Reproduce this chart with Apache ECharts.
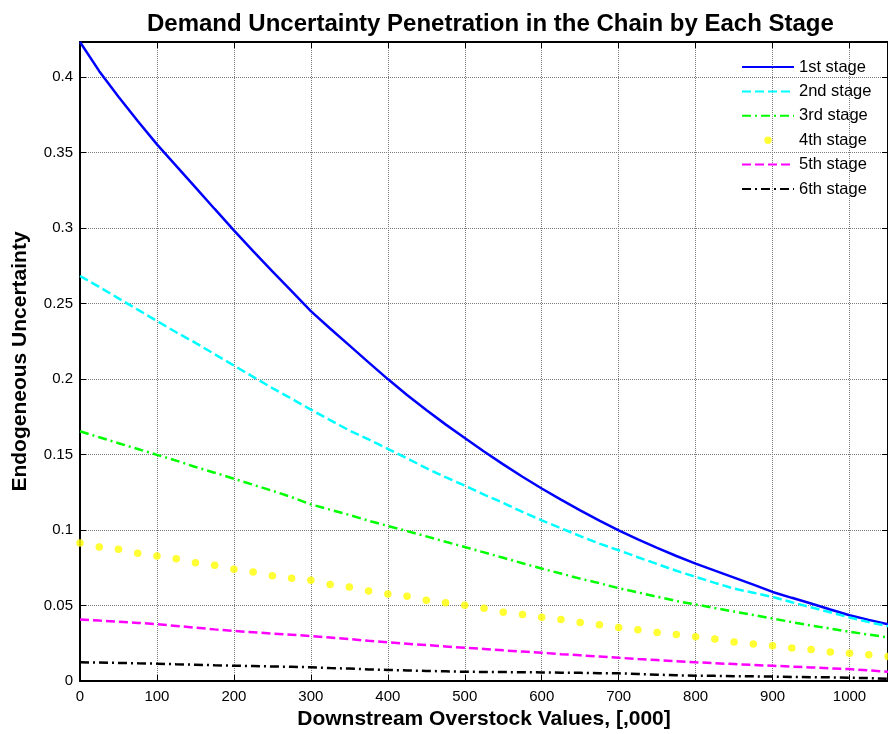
<!DOCTYPE html>
<html>
<head>
<meta charset="utf-8">
<script src="https://cdn.jsdelivr.net/npm/echarts@6/dist/echarts.min.js"></script>
<style>
  html, body { margin: 0; padding: 0; background: #fff; }
  #chart { width: 888px; height: 734px; }
</style>
</head>
<body>
<div id="chart"></div>
<script>
// Downstream overstock values in thousands (step of 25)
const xValues = [0,25,50,75,100,125,150,175,200,225,250,275,300,325,350,375,400,425,450,475,500,
  525,550,575,600,625,650,675,700,725,750,775,800,825,850,875,900,925,950,975,1000,1025,1050];

const stage1 = [0.4233,0.404,0.387,0.371,0.3555,0.3412,0.327,0.3127,0.2985,0.2848,0.2713,0.2582,0.245,0.2335,0.2223,0.2111,0.200,0.1895,0.1795,0.170,0.161,
  0.152,0.1435,0.1353,0.1275,0.1201,0.113,0.1062,0.0998,0.0938,0.0882,0.0828,0.0778,0.0731,0.0685,0.0638,0.059,0.0551,0.0513,0.0474,0.0436,0.0405,0.0375];

const stage2 = [0.2683,0.261,0.2535,0.246,0.2385,0.231,0.224,0.2165,0.209,0.2015,0.194,0.187,0.1798,0.1728,0.166,0.160,0.1538,0.1475,0.141,0.135,0.1295,
  0.1235,0.118,0.112,0.1064,0.1012,0.096,0.091,0.0866,0.082,0.0775,0.073,0.069,0.065,0.0612,0.0585,0.0557,0.0522,0.0488,0.0455,0.0421,0.039,0.0363];

const stage3 = [0.1654,0.1615,0.1575,0.1537,0.1498,0.146,0.1418,0.138,0.134,0.130,0.126,0.1218,0.117,0.1135,0.110,0.1062,0.1027,0.0993,0.0958,0.0922,0.0888,
  0.0852,0.0816,0.078,0.0745,0.0712,0.0678,0.0648,0.0615,0.0587,0.0558,0.053,0.0507,0.0483,0.046,0.0437,0.0414,0.039,0.0368,0.0347,0.0326,0.0307,0.0289];

const stage4 = [0.0914,0.0888,0.0872,0.0846,0.0828,0.081,0.0784,0.0767,0.074,0.0722,0.0698,0.068,0.0668,0.0639,0.0623,0.0597,0.0577,0.0562,0.0535,0.0518,0.0502,
  0.0482,0.0456,0.0441,0.0423,0.0408,0.0388,0.0372,0.0355,0.0339,0.0322,0.0308,0.0293,0.0278,0.0258,0.0245,0.0233,0.0218,0.0209,0.0192,0.0183,0.0174,0.0162];

const stage5 = [0.0408,0.040,0.0393,0.0385,0.0377,0.0365,0.0353,0.0342,0.0332,0.0323,0.0314,0.0306,0.0298,0.0288,0.0278,0.0266,0.0256,0.0247,0.0238,0.0229,0.022,
  0.0212,0.0203,0.0195,0.0187,0.0178,0.017,0.0162,0.0154,0.0146,0.0139,0.0131,0.0124,0.0118,0.0112,0.0106,0.0101,0.0095,0.009,0.0084,0.0079,0.007,0.0062];

const stage6 = [0.0124,0.0122,0.012,0.0117,0.0115,0.0111,0.0108,0.0104,0.0101,0.0099,0.0096,0.0094,0.0091,0.0086,0.0082,0.0077,0.0073,0.007,0.0067,0.0064,0.0061,
  0.006,0.0059,0.0058,0.0057,0.0055,0.0054,0.0052,0.0051,0.0046,0.0042,0.0038,0.0035,0.0034,0.0032,0.0031,0.0029,0.0027,0.0025,0.0024,0.0022,0.0019,0.0015];

const stageNames = ['1st stage','2nd stage','3rd stage','4th stage','5th stage','6th stage'];

const pairs = ys => xValues.map((x, i) => [x, ys[i]]);

const FONT = '"Liberation Sans", Arial, sans-serif';
const gridLine = { show: true, lineStyle: { color: '#7a7a7a', type: 'dotted', width: 1 } };
const frameLine = { show: true, onZero: false, lineStyle: { color: '#000', width: 2 } };
const innerTick = { show: true, inside: true, length: 6, lineStyle: { color: '#000' } };

// small centred dot for the marker-only series in the legend
const dotIcon = 'path://M0,0L0.001,0M52,16L52.001,16M22.3,8A3.7,3.7,0,1,1,29.7,8A3.7,3.7,0,1,1,22.3,8Z';

const chart = echarts.init(document.getElementById('chart'), null, { renderer: 'canvas' });

const lineSeries = (name, ys, color, dash) => ({
  name, type: 'line', data: pairs(ys), symbol: 'none', smooth: false,
  lineStyle: { color, width: 2.5, type: dash },
  itemStyle: { color },
  animation: false
});

chart.setOption({
  animation: false,
  backgroundColor: '#fff',
  title: {
    text: 'Demand Uncertainty Penetration in the Chain by Each Stage',
    left: 142, top: 7,
    textStyle: { fontFamily: FONT, fontSize: 24, fontWeight: 'bold', color: '#000' }
  },
  legend: {
    orient: 'vertical',
    left: 741, top: 58.5, padding: 0,
    itemWidth: 52, itemHeight: 16, itemGap: 7.4,
    textStyle: { fontFamily: FONT, fontSize: 16.5, color: '#000' },
    data: [
      { name: stageNames[0], itemStyle: { opacity: 0 } },
      { name: stageNames[1], itemStyle: { opacity: 0 } },
      { name: stageNames[2], itemStyle: { opacity: 0 } },
      { name: stageNames[3], icon: dotIcon },
      { name: stageNames[4], itemStyle: { opacity: 0 } },
      { name: stageNames[5], itemStyle: { opacity: 0 } }
    ]
  },
  grid: { left: 80, top: 42, right: 0, bottom: 53, containLabel: false, outerBoundsMode: 'none' },
  xAxis: [{
    type: 'value', min: 0, max: 1050, interval: 100, position: 'bottom',
    name: 'Downstream Overstock Values, [,000]',
    nameLocation: 'middle', nameGap: 27,
    nameTextStyle: { fontFamily: FONT, fontSize: 21, fontWeight: 'bold', color: '#000' },
    axisLine: frameLine,
    axisTick: innerTick,
    axisLabel: { fontFamily: FONT, fontSize: 15, color: '#000', margin: 8, showMaxLabel: false,
      formatter: v => String(v) },
    splitLine: gridLine
  }, {
    type: 'value', min: 0, max: 1050, interval: 100, position: 'top',
    axisLine: frameLine,
    axisTick: innerTick,
    axisLabel: { show: false }, splitLine: { show: false }
  }],
  yAxis: [{
    type: 'value', min: 0, max: 0.4233, interval: 0.05, position: 'left',
    name: 'Endogeneous Uncertainty',
    nameLocation: 'middle', nameGap: 49, nameRotate: 90,
    nameTextStyle: { fontFamily: FONT, fontSize: 21, fontWeight: 'bold', color: '#000' },
    axisLine: frameLine,
    axisTick: innerTick,
    axisLabel: { fontFamily: FONT, fontSize: 15, color: '#000', margin: 7, showMaxLabel: false,
      formatter: v => String(parseFloat(v.toFixed(2))) },
    splitLine: gridLine
  }, {
    type: 'value', min: 0, max: 0.4233, interval: 0.05, position: 'right',
    axisLine: frameLine,
    axisTick: innerTick,
    axisLabel: { show: false }, splitLine: { show: false }
  }],
  series: [
    lineSeries(stageNames[0], stage1, '#0000ff', 'solid'),
    lineSeries(stageNames[1], stage2, '#00ffff', [9, 4]),
    lineSeries(stageNames[2], stage3, '#00ff00', [9, 4, 2, 4]),
    {
      name: stageNames[3], type: 'scatter', data: pairs(stage4),
      symbol: 'circle', symbolSize: 7.5,
      itemStyle: { color: '#ffff00' }, animation: false
    },
    lineSeries(stageNames[4], stage5, '#ff00ff', [9, 4]),
    lineSeries(stageNames[5], stage6, '#000000', [9, 4, 2, 4])
  ]
});
</script>
</body>
</html>
